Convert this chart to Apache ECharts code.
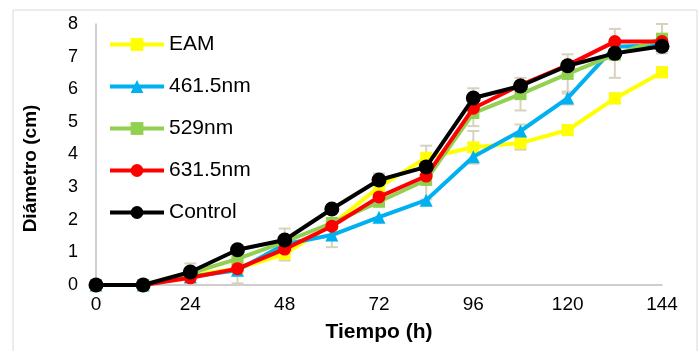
<!DOCTYPE html>
<html>
<head>
<meta charset="utf-8">
<script src="https://cdn.jsdelivr.net/npm/echarts@6/dist/echarts.min.js"></script>
<style>
  html, body { margin: 0; padding: 0; background: #fff; }
  #chart { width: 700px; height: 351px; }
</style>
</head>
<body>
<div id="chart"></div>
<script>
// horas
var tiempo = [0, 12, 24, 36, 48, 60, 72, 84, 96, 108, 120, 132, 144]
var nombres = ['EAM', '461.5nm', '529nm', '631.5nm', 'Control']

// diametro (cm)
var eam = [0, 0, 0.3, 0.5, 0.95, 1.85, 3.0, 3.9, 4.22, 4.35, 4.75, 5.72, 6.52]
var azul = [0, 0, 0.25, 0.45, 1.25, 1.53, 2.08, 2.6, 3.93, 4.72, 5.73, 7.3, 7.35]
var verde = [0, 0, 0.36, 0.8, 1.32, 1.9, 2.55, 3.22, 5.27, 5.85, 6.47, 7.06, 7.55]
var rojo = [0, 0, 0.22, 0.5, 1.1, 1.8, 2.7, 3.34, 5.42, 6.13, 6.74, 7.46, 7.46]
var control = [0, 0, 0.4, 1.08, 1.38, 2.33, 3.22, 3.62, 5.73, 6.1, 6.72, 7.1, 7.32]

// barras de error (+/-)
var errEam = [0, 0, 0, 0, 0.2, 0, 0, 0.37, 0.5, 0.2, 0.15, 0.15, 0.15]
var errAzul = [0, 0, 0, 0.4, 0, 0.37, 0, 0, 0, 0.2, 0.2, 0, 0]
var errVerde = [0, 0, 0.3, 0, 0, 0, 0, 0.6, 0.4, 0.5, 0.6, 0, 0.45]
var errRojo = [0, 0, 0, 0, 0, 0, 0, 0, 0, 0, 0, 0, 0]
var errControl = [0, 0, 0, 0, 0.35, 0, 0.2, 0, 0.3, 0, 0, 0.75, 0]

var valores = [eam, azul, verde, rojo, control]
var errores = [errEam, errAzul, errVerde, errRojo, errControl]
var colores = ['#ffff00', '#00b0f0', '#92d050', '#ff0000', '#000000']
var simbolos = ['rect', 'triangle', 'rect', 'circle', 'circle']
var tamanos = [12, 13, 12, 13, 15]

var myChart = echarts.init(document.getElementById('chart'))

var series = []
// barras de error primero (debajo de las lineas)
valores.forEach(function (vals, k) {
  var d = []
  vals.forEach(function (v, i) {
    if (errores[k][i] > 0) d.push([tiempo[i], v - errores[k][i], v + errores[k][i]])
  })
  series.push({
    type: 'custom',
    name: 'err' + k,
    z: 1,
    silent: true,
    data: d,
    encode: { x: 0, y: [1, 2] },
    renderItem: function (params, api) {
      var lo = api.coord([api.value(0), api.value(1)])
      var hi = api.coord([api.value(0), api.value(2)])
      var w = 6
      var st = { stroke: '#d8d2bd', lineWidth: 2 }
      return {
        type: 'group',
        children: [
          { type: 'line', shape: { x1: lo[0], y1: lo[1], x2: hi[0], y2: hi[1] }, style: st },
          { type: 'line', shape: { x1: lo[0] - w, y1: lo[1], x2: lo[0] + w, y2: lo[1] }, style: st },
          { type: 'line', shape: { x1: hi[0] - w, y1: hi[1], x2: hi[0] + w, y2: hi[1] }, style: st },
        ],
      }
    },
  })
})
valores.forEach(function (vals, k) {
  series.push({
    type: 'line',
    name: nombres[k],
    z: 2 + k,
    data: vals.map(function (v, i) { return [tiempo[i], v] }),
    symbol: simbolos[k],
    symbolSize: tamanos[k],
    showAllSymbol: true,
    color: colores[k],
    lineStyle: { width: 4, color: colores[k] },
    itemStyle: { color: colores[k] },
  })
})

var option = {
  animation: false,
  textStyle: { fontFamily: 'Liberation Sans, Arial, sans-serif' },
  graphic: [
    {
      type: 'rect',
      shape: { x: 13, y: 10, width: 684, height: 350 },
      style: { fill: 'none', stroke: '#d9d9d9', lineWidth: 1 },
      silent: true,
    },
  ],
  grid: { left: 96, right: 38, top: 24, bottom: 66 },
  legend: {
    data: nombres,
    orient: 'vertical',
    left: 103,
    top: 29,
    itemWidth: 54,
    itemHeight: 16,
    itemGap: 21,
    lineStyle: { width: 4 },
    textStyle: { color: '#000', fontSize: 21, fontFamily: 'Liberation Sans, Arial, sans-serif' },
  },
  xAxis: {
    type: 'value',
    min: 0,
    max: 144,
    interval: 24,
    name: 'Tiempo (h)',
    nameLocation: 'middle',
    nameGap: 37,
    nameTextStyle: { color: '#000', fontSize: 21, fontWeight: 'bold' },
    axisLine: { lineStyle: { color: '#bfbfbf', width: 1.5 } },
    axisTick: { show: false },
    splitLine: { show: false },
    axisLabel: { color: '#000', fontSize: 19, margin: 10 },
  },
  yAxis: {
    type: 'value',
    min: 0,
    max: 8,
    interval: 1,
    name: 'Diámetro (cm)',
    nameLocation: 'middle',
    nameGap: 56,
    nameTextStyle: { color: '#000', fontSize: 19, fontWeight: 'bold', padding: [0, 28, 0, 0] },
    axisLine: { show: true, lineStyle: { color: '#bfbfbf', width: 1.5 } },
    axisTick: { show: false },
    splitLine: { show: false },
    axisLabel: { color: '#000', fontSize: 18, margin: 18 },
  },
  series: series,
}

myChart.setOption(option)
</script>
</body>
</html>
